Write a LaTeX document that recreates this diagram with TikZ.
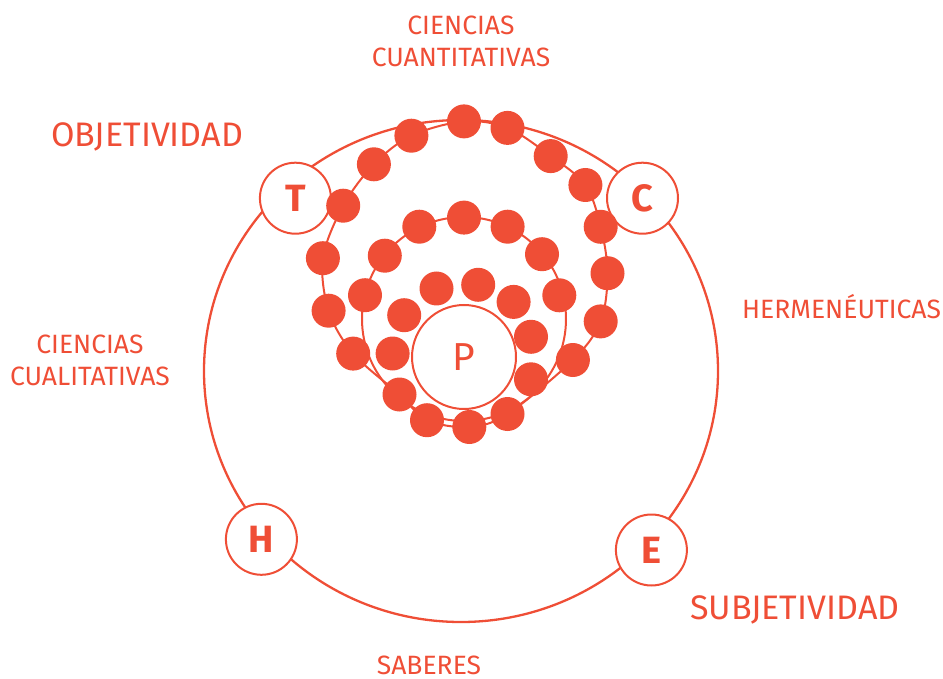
\documentclass[tikz,border=0pt]{standalone}
\usepackage{fontspec}
\setmainfont{Fira Sans}
\usetikzlibrary{backgrounds}
\definecolor{rojo}{RGB}{239,78,54}
\tikzset{
	anillo/.style={draw=rojo, line width=2pt},
	bola/.style={circle, fill=rojo, inner sep=0pt, minimum size=34pt},
	letra/.style={circle, draw=rojo, fill=white, line width=2pt, inner sep=0pt,
		minimum size=71pt, text=rojo, font=\fontsize{38}{38}\selectfont\bfseries},
	rotulo/.style={text=rojo, inner sep=0pt, anchor=base, font=\fontsize{26.5}{26.5}\selectfont},
	rotulo grande/.style={text=rojo, inner sep=0pt, anchor=base west, font=\fontsize{34}{34}\selectfont}
}
\begin{document}
\begin{tikzpicture}[x=1pt, y=-1pt]
		\useasboundingbox ( 0, 0 ) rectangle ( 943, 679 );

		% letras
		\node [letra] (T) at ( 295.4, 198.2 ) {T};
		\node [letra] (C) at ( 642.5, 198.2 ) {C};
		\node [letra] (H) at ( 261.4, 539.3 ) {H};
		\node [letra] (E) at ( 651.4, 550.0 ) {E};
		\node [letra, minimum size=104pt, font=\fontsize{39}{39}\selectfont] (P) at ( 464, 357 ) {P};

		% bolas del anillo exterior
		\node [bola] (o1) at ( 464.0, 121.4 ) {};
		\node [bola] (o2) at ( 507.5, 127.9 ) {};
		\node [bola] (o3) at ( 550.7, 156.1 ) {};
		\node [bola] (o4) at ( 585.4, 185.0 ) {};
		\node [bola] (o5) at ( 600.7, 226.8 ) {};
		\node [bola] (o6) at ( 607.5, 273.2 ) {};
		\node [bola] (o7) at ( 600.7, 321.4 ) {};
		\node [bola] (o8) at ( 572.9, 360.0 ) {};
		\node [bola] (o9) at ( 507.5, 414.0 ) {};
		\node [bola] (o10) at ( 469.3, 427.0 ) {};
		\node [bola] (o11) at ( 427.0, 420.2 ) {};
		\node [bola] (o12) at ( 399.5, 394.5 ) {};
		\node [bola] (o13) at ( 353.2, 353.6 ) {};
		\node [bola] (o14) at ( 328.6, 310.7 ) {};
		\node [bola] (o15) at ( 322.9, 258.2 ) {};
		\node [bola] (o16) at ( 343.2, 205.7 ) {};
		\node [bola] (o17) at ( 373.9, 164.3 ) {};
		\node [bola] (o18) at ( 411.4, 135.7 ) {};

		% bolas del anillo interior
		\node [bola] (i1) at ( 464.0, 217.6 ) {};
		\node [bola] (i2) at ( 507.6, 226.7 ) {};
		\node [bola] (i3) at ( 542.0, 254.2 ) {};
		\node [bola] (i4) at ( 559.3, 295.3 ) {};
		\node [bola] (i5) at ( 365.0, 295.2 ) {};
		\node [bola] (i6) at ( 384.8, 255.7 ) {};
		\node [bola] (i7) at ( 419.3, 226.7 ) {};

		% bolas junto a P
		\node [bola] (k1) at ( 436.5, 288.5 ) {};
		\node [bola] (k2) at ( 478.2, 284.8 ) {};
		\node [bola] (k3) at ( 513.6, 301.9 ) {};
		\node [bola] (k4) at ( 404.2, 315.2 ) {};
		\node [bola] (k5) at ( 392.6, 353.5 ) {};
		\node [bola] (k6) at ( 531.0, 336.8 ) {};
		\node [bola] (k7) at ( 531.0, 379.3 ) {};

		% circulos y anillos, debajo de todo
		\begin{scope}[on background layer]
			\draw [anillo, line width=2.3pt] ( 461, 371 ) ellipse [x radius=257, y radius=251];
			\coordinate (centro) at ( 464, 319 );
			\draw [anillo] (centro) circle [radius=102];
			\draw [anillo] plot [smooth cycle, tension=0.55] coordinates {
				(o1.center) (o2.center) (o3.center) (o4.center) (o5.center) (o6.center)
				(o7.center) (o8.center) (o9.center) (o10.center) (o11.center) (o12.center)
				(o13.center) (o14.center) (o15.center) (o16.center) (o17.center) (o18.center) };
		\end{scope}

		% rotulos
		\node [rotulo] (cuant1) at ( 461, 35 ) {CIENCIAS};
		\node [rotulo] (cuant2) at ( 461, 66.7 ) {CUANTITATIVAS};
		\node [rotulo] (cual1) at ( 90, 353 ) {CIENCIAS};
		\node [rotulo] (cual2) at ( 90, 385 ) {CUALITATIVAS};
		\node [rotulo, anchor=base west] (herm) at ( 742, 319 ) {HERMENÉUTICAS};
		\node [rotulo] (saberes) at ( 429, 674 ) {SABERES};
		\node [rotulo grande] (obj) at ( 51, 147 ) {OBJETIVIDAD};
		\node [rotulo grande] (subj) at ( 690, 619 ) {SUBJETIVIDAD};
	\end{tikzpicture}
\end{document}
